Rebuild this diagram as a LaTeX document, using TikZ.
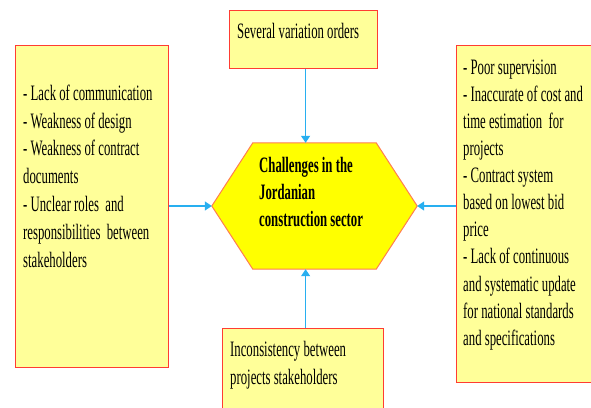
\documentclass[tikz,border=0pt]{standalone}
\usepackage{fontspec}
\setmainfont[FakeStretch=0.58]{Liberation Serif}
\usetikzlibrary{arrows.meta}
\definecolor{boxfill}{RGB}{255,255,153}
\definecolor{boxline}{RGB}{255,60,50}
\definecolor{hexfill}{RGB}{255,255,0}
\definecolor{hexline}{RGB}{255,125,80}
\definecolor{arrowblue}{RGB}{40,175,240}
\tikzset{
  box/.style={draw=boxline, fill=boxfill, line width=1.2pt, inner sep=0pt, anchor=north west},
  txt/.style={inner sep=0pt, anchor=north west, align=left},
  conn/.style={draw=arrowblue, line width=1.2pt, -{Triangle[length=7pt,width=9pt]}},
}
\newcommand{\ts}{\rule{0pt}{20pt}}
\begin{document}
\begin{tikzpicture}[x=1pt,y=-1pt]
\useasboundingbox (0,0) rectangle (591,407);
% boxes
\node[box, minimum width=153pt, minimum height=322pt] (left) at (15,45) {};
\node[box, minimum width=148pt, minimum height=58pt] (top) at (229,10) {};
\node[box, minimum width=137pt, minimum height=337pt] (right) at (456,45) {};
\node[box, minimum width=161pt, minimum height=82pt] (bottom) at (222,328) {};
% hexagon
\node[minimum width=205pt, minimum height=126pt, inner sep=0pt] (hex) at (314.5,206) {};
\draw[draw=hexline, fill=hexfill, line width=1pt]
  (hex.west) -- ([xshift=41pt]hex.north west) -- ([xshift=-41pt]hex.north east)
  -- (hex.east) -- ([xshift=-41pt]hex.south east) -- ([xshift=41pt]hex.south west) -- cycle;
% texts
\node[txt, font=\fontsize{22}{27.8}\selectfont] (lefttxt) at (23,80) {\ts- Lack of communication\\- Weakness of design\\- Weakness of contract\\documents\\- Unclear roles \ and\\responsibilities \ between\\stakeholders};
\node[txt, font=\fontsize{22}{27.1}\selectfont] (righttxt) at (463,54) {\ts- Poor supervision\\- Inaccurate of cost and\\time estimation \ for\\projects\\- Contract system\\based on lowest bid\\price\\- Lack of continuous\\and systematic update\\for national standards\\and specifications};
\node[txt, font=\fontsize{22}{27}\selectfont] (toptxt) at (237,18) {\ts Several variation orders};
\node[txt, font=\fontsize{22}{28}\selectfont] (bottomtxt) at (230,336) {\ts Inconsistency between\\projects stakeholders};
\node[txt, font=\fontsize{22}{27}\selectfont\bfseries] (hextxt) at (259,152) {\ts Challenges in the\\Jordanian\\construction sector};
% connectors
\draw[conn] ([xshift=2pt]top.south) -- ([xshift=2pt]top.south |- hex.north);
\draw[conn] ([xshift=2.5pt]bottom.north) -- ([xshift=2.5pt]bottom.north |- hex.south);
\draw[conn] (left.east |- hex.west) -- (hex.west);
\draw[conn] (right.west |- hex.east) -- (hex.east);
\end{tikzpicture}
\end{document}
